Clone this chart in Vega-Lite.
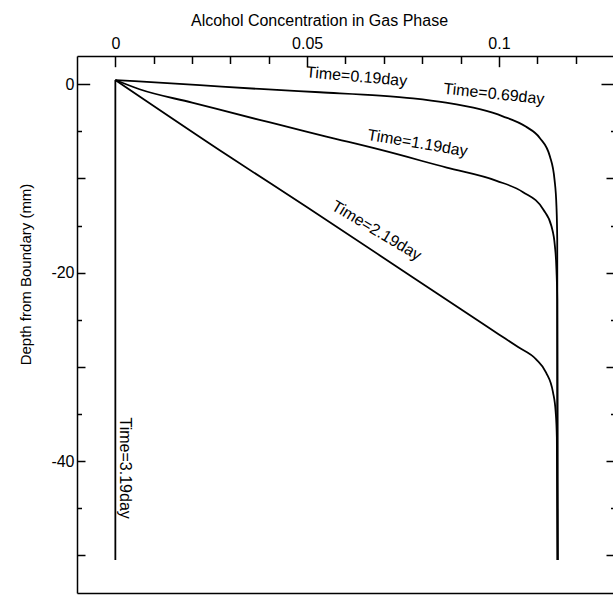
{
  "$schema": "https://vega.github.io/schema/vega-lite/v6.json",
  "width": 537,
  "height": 537,
  "autosize": {"type": "none"},
  "padding": {"left": 77, "top": 56, "right": 0, "bottom": 2},
  "background": "white",
  "config": {
    "view": {"stroke": null},
    "font": "Liberation Sans",
    "axis": {
      "labelFont": "Liberation Sans",
      "titleFont": "Liberation Sans",
      "labelColor": "black",
      "titleColor": "black",
      "tickColor": "black",
      "domainColor": "black",
      "grid": false,
      "labelFlush": false,
      "labelOverlap": false,
      "labelBound": false,
      "domainWidth": 1.5,
      "tickWidth": 1.5,
      "titleFontWeight": "normal"
    },
    "text": {"fontSize": 16, "font": "Liberation Sans", "color": "black", "align": "center", "baseline": "middle"}
  },
  "datasets": {
    "labels": [
      {"label": "Time=0.19day", "x": 0.0629, "y": 0.8},
      {"label": "Time=0.69day", "x": 0.0987, "y": -1.03},
      {"label": "Time=1.19day", "x": 0.0788, "y": -6.25},
      {"label": "Time=2.19day", "x": 0.0681, "y": -15.54},
      {"label": "Time=3.19day", "x": 0.0025, "y": -40.75}
    ]
  },
  "data": {
    "values": [
      {"s": "A", "i": 0, "x": 0, "y": 0.45},
      {"s": "A", "i": 1, "x": 0.022, "y": -0.1},
      {"s": "A", "i": 2, "x": 0.0376, "y": -0.5},
      {"s": "A", "i": 3, "x": 0.0533, "y": -0.85},
      {"s": "A", "i": 4, "x": 0.069, "y": -1.2},
      {"s": "A", "i": 5, "x": 0.0776, "y": -1.5},
      {"s": "A", "i": 6, "x": 0.0862, "y": -1.95},
      {"s": "A", "i": 7, "x": 0.095, "y": -2.65},
      {"s": "A", "i": 8, "x": 0.101, "y": -3.4},
      {"s": "A", "i": 9, "x": 0.107, "y": -4.49},
      {"s": "A", "i": 10, "x": 0.1107, "y": -5.72},
      {"s": "A", "i": 11, "x": 0.1133, "y": -7.67},
      {"s": "A", "i": 12, "x": 0.1145, "y": -10.14},
      {"s": "A", "i": 13, "x": 0.115, "y": -12.97},
      {"s": "A", "i": 14, "x": 0.1152, "y": -16.5},
      {"s": "A", "i": 15, "x": 0.1153, "y": -50.5},
      {"s": "B", "i": 0, "x": 0, "y": 0.45},
      {"s": "B", "i": 1, "x": 0.0063, "y": -0.53},
      {"s": "B", "i": 2, "x": 0.02, "y": -1.95},
      {"s": "B", "i": 3, "x": 0.0376, "y": -3.78},
      {"s": "B", "i": 4, "x": 0.0429, "y": -4.31},
      {"s": "B", "i": 5, "x": 0.055, "y": -5.55},
      {"s": "B", "i": 6, "x": 0.069, "y": -6.95},
      {"s": "B", "i": 7, "x": 0.0864, "y": -8.85},
      {"s": "B", "i": 8, "x": 0.0994, "y": -10.25},
      {"s": "B", "i": 9, "x": 0.1063, "y": -11.45},
      {"s": "B", "i": 10, "x": 0.1116, "y": -13.32},
      {"s": "B", "i": 11, "x": 0.1137, "y": -15.08},
      {"s": "B", "i": 12, "x": 0.1146, "y": -17.2},
      {"s": "B", "i": 13, "x": 0.115, "y": -19.7},
      {"s": "B", "i": 14, "x": 0.1152, "y": -22.8},
      {"s": "B", "i": 15, "x": 0.1153, "y": -50.5},
      {"s": "C", "i": 0, "x": 0, "y": 0.45},
      {"s": "C", "i": 1, "x": 0.0298, "y": -7.7},
      {"s": "C", "i": 2, "x": 0.05, "y": -13.05},
      {"s": "C", "i": 3, "x": 0.0776, "y": -20.5},
      {"s": "C", "i": 4, "x": 0.09, "y": -23.85},
      {"s": "C", "i": 5, "x": 0.1, "y": -26.55},
      {"s": "C", "i": 6, "x": 0.105, "y": -27.9},
      {"s": "C", "i": 7, "x": 0.1097, "y": -29.2},
      {"s": "C", "i": 8, "x": 0.1123, "y": -30.6},
      {"s": "C", "i": 9, "x": 0.1141, "y": -32.7},
      {"s": "C", "i": 10, "x": 0.1148, "y": -34.8},
      {"s": "C", "i": 11, "x": 0.1151, "y": -37.5},
      {"s": "C", "i": 12, "x": 0.1153, "y": -50.5},
      {"s": "D", "i": 0, "x": 0, "y": 0.45},
      {"s": "D", "i": 1, "x": 0, "y": -50.5}
    ]
  },
  "layer": [
    {
      "mark": {"type": "line", "color": "black", "strokeWidth": 1.8, "strokeJoin": "round", "interpolate": "monotone", "clip": false},
      "encoding": {
        "x": {
          "field": "x", "type": "quantitative",
          "scale": {"domain": [-0.01, 0.13], "nice": false, "zero": false},
          "axis": {
            "orient": "top", "values": [0, 0.05, 0.1], "labelExpr": "'' + datum.value",
            "ticks": false, "domain": true, "labelPadding": 5, "labelFontSize": 16,
            "title": "Alcohol Concentration in Gas Phase", "titleFontSize": 16,
            "titleX": 242, "titleY": -36, "titleBaseline": "middle", "titleAlign": "center"
          }
        },
        "y": {
          "field": "y", "type": "quantitative",
          "scale": {"domain": [-54, 3], "nice": false, "zero": false},
          "axis": {
            "orient": "left", "values": [0, -20, -40], "labelExpr": "'' + datum.value",
            "ticks": false, "domain": true, "labelPadding": 3, "labelFontSize": 16,
            "title": "Depth from Boundary (mm)", "titleFontSize": 15,
            "titleX": -52, "titleY": 218, "titleAngle": -90, "titleBaseline": "middle", "titleAlign": "center"
          }
        },
        "detail": {"field": "s"},
        "order": {"field": "i"}
      }
    },
    {
      "mark": {"type": "point", "opacity": 0},
      "encoding": {
        "x": {"field": "x", "type": "quantitative",
          "axis": {"orient": "top", "values": [0, 0.05, 0.1], "labels": false, "domain": false, "tickSize": -10.7, "title": null}},
        "y": {"field": "y", "type": "quantitative",
          "axis": {"orient": "left", "values": [-10, -20, -30, -40, -50], "labels": false, "domain": false, "tickSize": -8, "title": null}}
      }
    },
    {
      "mark": {"type": "point", "opacity": 0},
      "encoding": {
        "x": {"field": "x", "type": "quantitative",
          "axis": {"orient": "top", "values": [0.01, 0.02, 0.03, 0.04, 0.06, 0.07, 0.08, 0.09, 0.11, 0.12], "labels": false, "domain": false, "tickSize": -7.5, "title": null}},
        "y": {"field": "y", "type": "quantitative",
          "axis": {"orient": "left", "values": [-5, -15, -25, -35, -45], "labels": false, "domain": false, "tickSize": -4.5, "title": null}}
      }
    },
    {
      "mark": {"type": "point", "opacity": 0},
      "encoding": {
        "x": {"field": "x", "type": "quantitative",
          "axis": {"orient": "bottom", "labels": false, "ticks": false, "domain": true, "title": null}},
        "y": {"field": "y", "type": "quantitative",
          "axis": {"orient": "left", "values": [0], "labels": false, "domain": false, "tickSize": -12.7, "title": null}}
      }
    },
    {
      "mark": {"type": "point", "opacity": 0},
      "encoding": {
        "x": {"field": "x", "type": "quantitative", "axis": null},
        "y": {"field": "y", "type": "quantitative",
          "axis": {"orient": "right", "values": [-10, -20, -30, -40, -50], "labels": false, "domain": false, "tickSize": -8, "title": null}}
      }
    },
    {
      "mark": {"type": "point", "opacity": 0},
      "encoding": {
        "x": {"field": "x", "type": "quantitative", "axis": null},
        "y": {"field": "y", "type": "quantitative",
          "axis": {"orient": "right", "values": [-5, -15, -25, -35, -45], "labels": false, "domain": false, "tickSize": -3.5, "title": null}}
      }
    },
    {
      "mark": {"type": "point", "opacity": 0},
      "encoding": {
        "x": {"field": "x", "type": "quantitative", "axis": null},
        "y": {"field": "y", "type": "quantitative",
          "axis": {"orient": "right", "values": [0], "labels": false, "domain": false, "tickSize": -13, "title": null}}
      }
    },
    {
      "data": {"name": "labels"},
      "transform": [{"filter": "datum.label === 'Time=0.19day'"}],
      "mark": {"type": "text", "angle": 5},
      "encoding": {
        "x": {"field": "x", "type": "quantitative", "axis": null},
        "y": {"field": "y", "type": "quantitative", "axis": null},
        "text": {"field": "label"}
      }
    },
    {
      "data": {"name": "labels"},
      "transform": [{"filter": "datum.label === 'Time=0.69day'"}],
      "mark": {"type": "text", "angle": 6},
      "encoding": {
        "x": {"field": "x", "type": "quantitative", "axis": null},
        "y": {"field": "y", "type": "quantitative", "axis": null},
        "text": {"field": "label"}
      }
    },
    {
      "data": {"name": "labels"},
      "transform": [{"filter": "datum.label === 'Time=1.19day'"}],
      "mark": {"type": "text", "angle": 9.5},
      "encoding": {
        "x": {"field": "x", "type": "quantitative", "axis": null},
        "y": {"field": "y", "type": "quantitative", "axis": null},
        "text": {"field": "label"}
      }
    },
    {
      "data": {"name": "labels"},
      "transform": [{"filter": "datum.label === 'Time=2.19day'"}],
      "mark": {"type": "text", "angle": 31},
      "encoding": {
        "x": {"field": "x", "type": "quantitative", "axis": null},
        "y": {"field": "y", "type": "quantitative", "axis": null},
        "text": {"field": "label"}
      }
    },
    {
      "data": {"name": "labels"},
      "transform": [{"filter": "datum.label === 'Time=3.19day'"}],
      "mark": {"type": "text", "angle": 90},
      "encoding": {
        "x": {"field": "x", "type": "quantitative", "axis": null},
        "y": {"field": "y", "type": "quantitative", "axis": null},
        "text": {"field": "label"}
      }
    }
  ],
  "resolve": {"axis": {"x": "independent", "y": "independent"}}
}
